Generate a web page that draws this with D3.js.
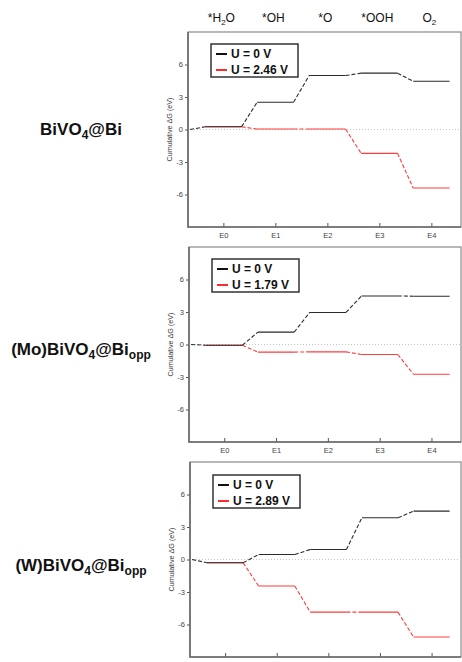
<!DOCTYPE html>
<html>
<head>
<meta charset="utf-8">
<script src="https://cdn.jsdelivr.net/npm/d3@7"></script>
<style>
  body { margin: 0; background: #fff; }
  svg { display: block; font-family: 'Liberation Sans', Arial, Helvetica, sans-serif; }
</style>
</head>
<body>
<div id="canvas"></div>
<script>
//data
var states = ['E0', 'E1', 'E2', 'E3', 'E4'];
var adsorbates = [['*H', '2', 'O'], ['*OH'], ['*O'], ['*OOH'], ['O', '2']];
var yTicks = [-6, -3, 0, 3, 6];

var biU0 = [0.25, 2.52, 4.98, 5.2, 4.46];
var biUeq = [0.25, 0.04, 0.04, -2.2, -5.4];
var moU0 = [-0.07, 1.14, 2.96, 4.48, 4.46];
var moUeq = [-0.07, -0.7, -0.68, -0.92, -2.74];
var wU0 = [-0.3, 0.46, 0.92, 3.85, 4.47];
var wUeq = [-0.3, -2.45, -4.86, -4.86, -7.15];
var potentials = ['2.46', '1.79', '2.89'];

//one entry per panel
var systems = [
  {name: [['BiVO', ''], ['4', 'sub'], ['@Bi', '']], u0: biU0, ueq: biUeq, pot: potentials[0]},
  {name: [['(Mo)BiVO', ''], ['4', 'sub'], ['@Bi', ''], ['opp', 'sub']], u0: moU0, ueq: moUeq, pot: potentials[1]},
  {name: [['(W)BiVO', ''], ['4', 'sub'], ['@Bi', ''], ['opp', 'sub']], u0: wU0, ueq: wUeq, pot: potentials[2]}
];

//canvas
var cv = {
  'width': 462,
  'height': 662,
  'right': 461,
  'panelH': 195,
  'tops': [32, 247, 462],
  'lefts': [188, 189, 190],
  'labelY': [135, 355, 571]
};

var svg = d3.select('#canvas').append('svg')
  .attr('width', cv.width)
  .attr('height', cv.height);

var halfW = 0.35;   //half width of an energy level
var startX = -0.64; //reference point at the axis

systems.forEach(function(sys, i) {
  var top = cv.tops[i];
  var left = cv.lefts[i];
  var bottom = top + cv.panelH;

  var x = d3.scaleLinear().domain([-0.68, 4.57]).range([left, cv.right]);
  var y = d3.scaleLinear().domain([-9, 9]).range([bottom, top]);

  var g = svg.append('g');

  //frame top/right
  g.append('rect')
    .attr('x', left).attr('y', top)
    .attr('width', cv.right - left).attr('height', cv.panelH)
    .attr('fill', 'none')
    .attr('stroke', '#8a8a8a')
    .attr('stroke-width', 1.2);

  //zero line
  g.append('line')
    .attr('x1', left).attr('x2', cv.right)
    .attr('y1', y(0)).attr('y2', y(0))
    .attr('stroke', '#c4c4c4')
    .attr('stroke-width', 1)
    .attr('stroke-dasharray', '1,2');

  //y axis
  var yAxis = g.append('g')
    .attr('transform', 'translate(' + left + ',0)')
    .call(d3.axisLeft(y).tickValues(yTicks).tickSize(3).tickPadding(2).tickFormat(d => String(d)));
  yAxis.select('.domain').remove();
  yAxis.selectAll('line').attr('stroke', '#555');
  yAxis.selectAll('text').attr('font-size', 7.5).attr('fill', '#444').attr('font-family', null);

  //x axis
  var xAxis = g.append('g')
    .attr('transform', 'translate(0,' + bottom + ')')
    .call(d3.axisBottom(x).tickValues(d3.range(states.length)).tickSize(0).tickPadding(6)
      .tickFormat(function(d) { return states[d]; }));
  xAxis.select('.domain').remove();
  xAxis.selectAll('.tick').append('line')
    .attr('y1', 0).attr('y2', -4)
    .attr('stroke', '#555');
  xAxis.selectAll('text').attr('font-size', 7.5).attr('fill', '#444').attr('font-family', null);

  //left and bottom axis lines
  g.append('path')
    .attr('d', 'M' + left + ',' + top + 'V' + bottom + 'H' + cv.right)
    .attr('fill', 'none')
    .attr('stroke', '#6a6a6a')
    .attr('stroke-width', 1.6);

  //axis title
  g.append('text')
    .attr('transform', 'translate(' + (left - 16) + ',' + y(0) + ') rotate(-90)')
    .attr('text-anchor', 'middle')
    .attr('font-size', 7.2)
    .attr('fill', '#333')
    .text('Cumulative \u0394G (eV)');

  //energy diagram: levels solid, connectors dashed
  function drawPath(vals, color, withStart) {
    var levels = vals.map(function(v, k) { return {k: k, v: v}; });
    g.selectAll(null)
      .data(levels)
      .enter().append('line')
      .attr('x1', d => x(d.k - halfW))
      .attr('x2', d => x(d.k + halfW))
      .attr('y1', d => y(d.v))
      .attr('y2', d => y(d.v))
      .attr('stroke', color)
      .attr('stroke-width', 1.1);
    var links = levels.slice(1).map(function(d) {
      return {x1: d.k - 1 + halfW, y1: vals[d.k - 1], x2: d.k - halfW, y2: d.v};
    });
    if (withStart) links.unshift({x1: startX, y1: 0, x2: -halfW, y2: vals[0]});
    g.selectAll(null)
      .data(links)
      .enter().append('line')
      .attr('x1', d => x(d.x1))
      .attr('x2', d => x(d.x2))
      .attr('y1', d => y(d.y1))
      .attr('y2', d => y(d.y2))
      .attr('stroke', color)
      .attr('stroke-width', 1.1)
      .attr('stroke-dasharray', '4,2');
  }
  drawPath(sys.ueq, '#ff3b3b', false);
  drawPath(sys.u0, '#2a2a2a', true);

  //legend
  var lg = g.append('g').attr('transform', 'translate(' + (left + 23) + ',' + (top + 12 + (i == 2 ? 1 : 0)) + ')');
  lg.append('rect')
    .attr('width', 87).attr('height', 33)
    .attr('fill', '#fff')
    .attr('stroke', '#333')
    .attr('stroke-width', 1.5);
  [['U = 0 V', '#111'], ['U = ' + sys.pot + ' V', '#ff2a2a']].forEach(function(e, j) {
    var yy = 10 + j * 16;
    lg.append('line')
      .attr('x1', 5).attr('x2', 16)
      .attr('y1', yy).attr('y2', yy)
      .attr('stroke', e[1])
      .attr('stroke-width', 2);
    lg.append('text')
      .attr('x', 20).attr('y', yy + 4.3)
      .attr('font-size', 12)
      .attr('font-weight', 'bold')
      .attr('fill', '#111')
      .text(e[0]);
  });

  //system name
  var name = svg.append('text')
    .attr('x', 81).attr('y', cv.labelY[i])
    .attr('text-anchor', 'middle')
    .attr('font-size', 17)
    .attr('font-weight', 'bold')
    .attr('fill', '#111');
  var shifted = false;
  sys.name.forEach(function(part) {
    var t = name.append('tspan').text(part[0]);
    if (part[1] == 'sub') {
      t.attr('font-size', 12).attr('dy', shifted ? 0 : 4);
      shifted = true;
    } else {
      t.attr('dy', shifted ? -4 : 0);
      shifted = false;
    }
  });

  //adsorbate labels above the first panel
  if (i == 0) {
    adsorbates.forEach(function(a, k) {
      var t = svg.append('text')
        .attr('x', x(k) - 2).attr('y', 22)
        .attr('text-anchor', 'middle')
        .attr('font-size', 12)
        .attr('fill', '#111');
      a.forEach(function(p, m) {
        var sp = t.append('tspan').text(p);
        if (p == '2') sp.attr('font-size', 8).attr('dy', 3);
        else if (m > 0) sp.attr('dy', -3);
      });
    });
  }
});
</script>
</body>
</html>
